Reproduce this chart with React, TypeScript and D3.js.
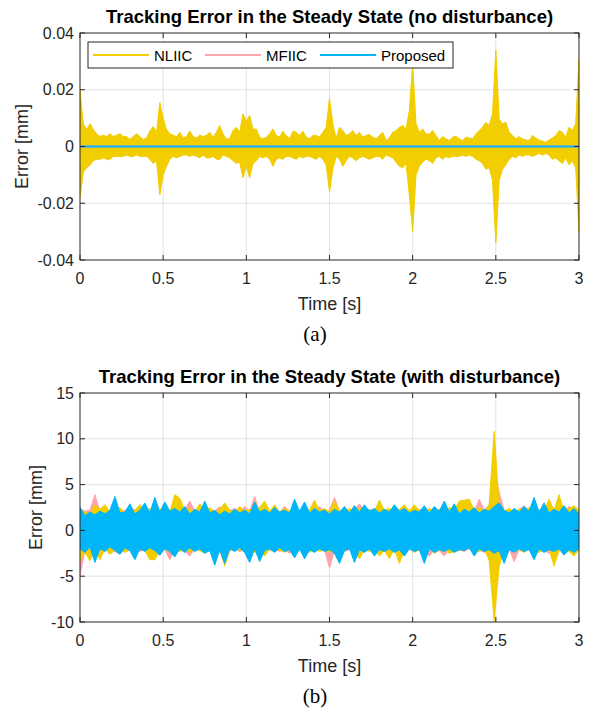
import * as d3 from 'd3'

const W = 589
const H = 711
const PLOT_L = 80
const PLOT_R = 579
const FONT = '"Liberation Sans", Arial, Helvetica, sans-serif'
const AXIS = '#262626'
const GRID = '#e2e2e2'

const SERIES_NAMES = ['NLIIC', 'MFIIC', 'Proposed']
const SERIES_COLORS = ['#F2CD00', '#FFA3AC', '#00B5F8']

const TIME_TICKS = [0, 0.5, 1, 1.5, 2, 2.5, 3]

// (a) no disturbance -- NLIIC error envelope, one value every 0.02 s, in µm
const A_STEP = 0.02
const A_NLIIC_HI = [
  20, 8, 6, 8, 6, 4.5, 3.5, 4, 3.5, 4.5, 3.5, 4, 4.5, 3.5, 3.5, 2.5, 3.5, 4.5, 3.5, 2.5,
  3, 5.5, 7, 5, 15.5, 10, 6, 4.5, 4, 3.5, 5, 3, 3.5, 5.5, 3.5, 3, 4, 3.5,
  4, 5, 3.3, 5, 7.4, 4.4, 2.7, 2.7, 5.6, 6.8, 5, 11.5, 9, 11, 6, 6.2, 3.3, 2.7, 3.3,
  4.4, 6.2, 3.9, 3.3, 5.4, 3.9, 2.7, 5.4, 5, 3.9, 5.4, 3.3, 2.7, 3.9, 3.9, 3.3, 5, 6.8,
  17, 8, 2.7, 6.8, 5.6, 3.9, 4.4, 5.6, 3.9, 5, 3.3, 3.9, 4.2, 3.3, 2.7, 3.9, 5, 2.1, 3,
  5, 5.6, 6.8, 7.4, 6.2, 12.6, 29, 8, 5, 6.2, 4.4, 4.4, 5.6, 3.9, 2.1, 3.5, 2.7, 2.1, 3.3, 3.6,
  2.7, 2.1, 3.3, 3, 2.7, 4.4, 5.6, 6.8, 8.5, 7.4, 11.5, 34, 9.7, 8, 8.5, 5, 3.9, 2.7, 3.5,
  2.7, 2.3, 2.1, 3.9, 3, 2.3, 1.9, 1.5, 2.3, 3, 3.9, 5.6, 5, 3.3, 6.8, 5.6, 8, 31,
]
const A_NLIIC_LO = [
  -18, -9, -7.5, -6.5, -5, -4.5, -4.5, -4, -4.5, -4.5, -3.5, -3.5, -3.5, -3.5, -3, -3.5, -3.5, -3, -3.5, -3.5,
  -3.5, -4.5, -6, -5, -17, -10, -7, -4.5, -3.5, -4, -3.5, -3, -3, -3.5, -3, -3.5, -4, -3,
  -4, -4, -3.5, -4.5, -4.5, -3, -3.5, -4, -5, -6, -5.5, -11, -7, -11, -6, -5, -3.5, -4, -3.5,
  -4.5, -7, -4.5, -4, -4.5, -3.5, -3.5, -4, -4.5, -3.5, -4, -3.5, -3.5, -4, -4.5, -3.5, -4.5, -6.5,
  -16, -8, -3.5, -4.5, -7, -5, -3.5, -4, -5, -4, -3.5, -4, -4.5, -4, -3.5, -3.5, -4.5, -3, -3.5,
  -4, -5.5, -7, -7.5, -6, -17, -30, -10, -7, -5.5, -4.5, -5, -6, -4, -3.5, -4.5, -3.5, -4, -3.5, -3.5,
  -3.5, -3, -3.5, -3, -3.5, -4.5, -5, -6, -8, -7.5, -12, -34, -12, -8, -6.5, -4.5, -3.5, -4, -3,
  -3.5, -3, -3, -3.5, -3, -2.5, -3, -2.5, -3, -4.5, -4, -5, -6, -4, -6.5, -5, -7.5, -30,
]
// MFIIC and Proposed stay on zero at this scale
const A_FLAT_T = [0, 3]
const A_MFIIC = [0, 0]
const A_PROPOSED = [0, 0]
const A_Y_TICKS = [-0.04, -0.02, 0, 0.02, 0.04]
const A_Y_LABELS = ['-0.04', '-0.02', '0', '0.02', '0.04']

// (b) with disturbance -- envelopes every 0.03 s, in mm
const B_STEP = 0.03
const B_NLIIC_HI = [
  2.2, 2.0, 1.8, 2.8, 2.3, 2.8, 2.0, 2.2, 2.5, 1.9,
  2.4, 2.2, 2.8, 2.1, 2.4, 2.0, 2.3, 2.5, 2.0, 3.9,
  3.5, 2.2, 2.4, 2.0, 2.9, 2.1, 2.5, 2.0, 2.3, 3.0,
  2.2, 2.0, 2.6, 2.1, 2.3, 2.0, 2.5, 3.2, 2.1, 2.8,
  2.0, 2.4, 2.1, 2.3, 2.0, 2.5, 2.2, 3.3, 2.1, 2.4,
  2.0, 3.2, 2.2, 2.0, 2.4, 2.1, 2.5, 2.0, 2.3, 2.1,
  3.3, 2.2, 2.4, 2.0, 2.3, 2.8, 2.1, 2.8, 2.2, 2.0,
  2.4, 2.1, 2.3, 2.0, 2.5, 2.2, 3.2, 3.3, 3.4, 2.2,
  2.5, 2.1, 2.8, 10.8, 2.6, 2.1, 2.4, 2.0, 2.3, 2.1,
  2.5, 2.0, 2.3, 2.1, 3.4, 2.2, 3.9, 2.1, 2.4, 2.7,
  2.2,
]
const B_NLIIC_LO = [
  -3.3, -2.4, -3.3, -2.2, -3.2, -2.0, -2.6, -2.2, -2.0, -2.4,
  -2.1, -2.3, -2.0, -2.2, -3.2, -3.2, -2.2, -2.0, -2.4, -2.1,
  -2.3, -2.1, -2.4, -2.0, -2.2, -2.5, -2.0, -2.3, -2.1, -3.9,
  -2.2, -2.0, -2.1, -2.3, -2.0, -2.4, -2.2, -2.8, -2.0, -2.3,
  -2.1, -2.4, -2.0, -2.8, -2.2, -2.1, -2.4, -2.0, -2.3, -2.1,
  -2.4, -2.0, -2.3, -2.2, -2.0, -2.4, -3.1, -2.1, -2.3, -2.0,
  -2.8, -2.2, -3.1, -2.0, -3.6, -2.2, -2.0, -2.4, -2.1, -2.2,
  -2.0, -2.5, -2.2, -2.0, -2.5, -2.3, -2.2, -2.0, -1.8, -2.1,
  -2.3, -2.0, -3.3, -9.9, -3.9, -2.2, -2.0, -2.3, -2.1, -2.4,
  -2.0, -2.2, -2.4, -2.1, -2.0, -3.9, -2.2, -2.0, -2.3, -2.8,
  -2.1,
]
const B_MFIIC_HI = [
  2.4, 2.1, 2.2, 3.9, 2.0, 2.3, 2.1, 2.4, 2.0, 2.2,
  2.1, 2.3, 2.0, 2.2, 2.1, 2.7, 2.0, 2.3, 2.1, 2.2,
  2.0, 2.3, 3.2, 2.1, 2.2, 2.0, 2.3, 2.1, 2.6, 2.0,
  2.2, 2.4, 2.0, 2.6, 2.1, 3.7, 2.0, 2.2, 2.1, 2.3,
  2.0, 2.6, 2.1, 2.2, 2.0, 2.3, 2.1, 2.2, 2.6, 2.0,
  2.2, 3.6, 2.1, 2.2, 2.0, 2.3, 2.9, 2.1, 2.2, 2.0,
  2.3, 2.1, 2.2, 2.0, 2.3, 2.1, 2.2, 2.0, 2.3, 2.1,
  2.2, 2.0, 2.3, 2.1, 2.2, 2.0, 2.3, 2.1, 2.2, 2.0,
  3.4, 2.2, 2.8, 6.6, 4.2, 2.2, 2.0, 1.8, 2.3, 2.7,
  2.1, 2.2, 2.0, 2.3, 2.1, 2.2, 3.1, 2.1, 2.6, 2.2,
  2.0,
]
const B_MFIIC_LO = [
  -4.9, -2.2, -2.0, -2.3, -2.1, -2.2, -2.0, -2.3, -2.6, -2.1,
  -2.2, -2.0, -2.3, -2.1, -2.2, -2.0, -2.3, -2.1, -3.2, -2.2,
  -2.0, -2.3, -2.8, -2.0, -2.2, -2.1, -2.3, -2.0, -2.5, -2.1,
  -2.2, -2.0, -2.3, -2.1, -2.2, -2.0, -2.3, -2.1, -2.2, -2.0,
  -2.3, -2.1, -2.5, -2.0, -2.2, -2.1, -2.3, -2.0, -2.2, -2.1,
  -4.1, -2.2, -2.0, -2.3, -2.1, -2.2, -2.0, -2.3, -2.1, -2.2,
  -2.0, -2.3, -2.1, -2.2, -2.0, -2.3, -2.1, -2.2, -2.0, -2.3,
  -2.8, -2.1, -2.2, -2.8, -2.0, -2.2, -2.1, -2.3, -2.0, -2.2,
  -2.1, -2.4, -2.2, -3.5, -2.6, -2.2, -2.0, -3.4, -2.1, -2.2,
  -2.0, -2.6, -2.1, -2.2, -2.5, -2.1, -2.2, -2.0, -2.3, -1.9,
  -2.0,
]
const B_PROPOSED_HI = [
  2.5, 1.6, 2.0, 1.7, 2.1, 1.8, 2.2, 3.7, 1.9, 2.0,
  2.9, 1.8, 2.2, 3.0, 1.9, 3.6, 2.0, 3.1, 2.1, 2.4,
  2.0, 2.6, 1.8, 2.3, 2.0, 3.2, 1.9, 2.2, 1.7, 2.1,
  1.8, 2.3, 1.9, 2.2, 1.8, 3.1, 2.0, 2.3, 1.9, 2.5,
  2.0, 2.2, 1.9, 3.4, 2.1, 3.1, 1.9, 2.4, 2.0, 2.2,
  1.8, 2.3, 2.0, 2.6, 1.9, 2.7, 2.0, 2.8, 2.1, 2.4,
  1.9, 2.3, 2.0, 2.8, 2.1, 2.4, 1.9, 2.2, 2.0, 2.7,
  1.9, 2.6, 2.1, 3.2, 2.0, 2.9, 1.8, 2.3, 2.0, 2.5,
  1.9, 2.3, 2.1, 2.6, 3.0, 2.2, 1.9, 2.4, 2.0, 2.6,
  2.1, 3.6, 2.0, 3.0, 1.9, 2.3, 2.0, 2.7, 1.9, 2.4,
  1.8,
]
const B_PROPOSED_LO = [
  -2.0, -2.4, -1.8, -3.5, -2.0, -2.3, -1.8, -2.2, -2.6, -1.9,
  -2.2, -3.2, -2.0, -2.3, -1.9, -2.2, -2.7, -2.0, -2.3, -2.9,
  -2.0, -2.4, -1.9, -2.3, -2.0, -2.5, -2.2, -3.8, -2.1, -3.6,
  -2.0, -2.3, -1.9, -2.4, -3.5, -2.0, -3.4, -2.2, -2.0, -2.4,
  -1.9, -2.3, -2.1, -3.0, -2.0, -3.1, -2.1, -2.4, -2.0, -2.3,
  -2.1, -2.5, -3.6, -2.2, -2.0, -3.5, -2.1, -2.4, -2.0, -2.8,
  -2.1, -2.3, -2.0, -2.4, -2.1, -2.8, -2.0, -2.3, -2.1, -3.6,
  -2.0, -2.4, -2.1, -2.3, -2.0, -2.4, -2.1, -2.2, -1.9, -2.8,
  -2.0, -2.3, -2.1, -2.5, -2.2, -3.6, -2.1, -2.4, -2.0, -2.3,
  -2.1, -3.2, -2.0, -2.4, -2.1, -2.3, -2.0, -2.7, -2.1, -2.4,
  -2.0,
]
const B_Y_TICKS = [-10, -5, 0, 5, 10, 15]
const B_Y_LABELS = ['-10', '-5', '0', '5', '10', '15']

type Band = { color: string; step: number; unit: number; hi: number[]; lo: number[] }
type Trace = { color: string; t: number[]; v: number[] }

type PanelProps = {
  id: string
  top: number
  bottom: number
  yTicks: number[]
  yLabels: string[]
  title: string
  caption: string
  yLabelX: number
  bands: Band[]
  traces: Trace[]
  legend?: boolean
}

function Panel(p: PanelProps) {
  const x = d3.scaleLinear().domain([0, 3]).range([PLOT_L, PLOT_R])
  const y = d3
    .scaleLinear()
    .domain([p.yTicks[0], p.yTicks[p.yTicks.length - 1]])
    .range([p.bottom, p.top])
  const clipId = `clip-${p.id}`
  const midX = (PLOT_L + PLOT_R) / 2
  const tickLen = 5

  return (
    <g>
      <defs>
        <clipPath id={clipId}>
          <rect x={PLOT_L} y={p.top} width={PLOT_R - PLOT_L} height={p.bottom - p.top} />
        </clipPath>
      </defs>

      {/* grid */}
      {TIME_TICKS.slice(1, -1).map(t => (
        <line key={`gx${t}`} x1={x(t)} x2={x(t)} y1={p.top} y2={p.bottom} stroke={GRID} strokeWidth={1} />
      ))}
      {p.yTicks.slice(1, -1).map(v => (
        <line key={`gy${v}`} x1={PLOT_L} x2={PLOT_R} y1={y(v)} y2={y(v)} stroke={GRID} strokeWidth={1} />
      ))}

      {/* data */}
      <g clipPath={`url(#${clipId})`}>
        {p.bands.map((b, k) => {
          const area = d3
            .area<number>()
            .x((_, i) => x(i * b.step))
            .y0((_, i) => y(b.lo[i] * b.unit))
            .y1(d => y(d * b.unit))
          return (
            <path
              key={`b${k}`}
              d={area(b.hi) || ''}
              fill={b.color}
              stroke={b.color}
              strokeWidth={1}
              strokeLinejoin="round"
            />
          )
        })}
        {p.traces.map((tr, k) => {
          const line = d3
            .line<number>()
            .x((_, i) => x(tr.t[i]))
            .y(d => y(d))
          return <path key={`t${k}`} d={line(tr.v) || ''} fill="none" stroke={tr.color} strokeWidth={2} />
        })}
      </g>

      {/* box and ticks */}
      <rect
        x={PLOT_L}
        y={p.top}
        width={PLOT_R - PLOT_L}
        height={p.bottom - p.top}
        fill="none"
        stroke={AXIS}
        strokeWidth={1}
      />
      {TIME_TICKS.map(t => (
        <g key={`tx${t}`}>
          <line x1={x(t)} x2={x(t)} y1={p.bottom} y2={p.bottom - tickLen} stroke={AXIS} />
          <line x1={x(t)} x2={x(t)} y1={p.top} y2={p.top + tickLen} stroke={AXIS} />
          <text x={x(t)} y={p.bottom + 24} textAnchor="middle" fontSize={16} fill={AXIS}>
            {String(t)}
          </text>
        </g>
      ))}
      {p.yTicks.map((v, i) => (
        <g key={`ty${v}`}>
          <line x1={PLOT_L} x2={PLOT_L + tickLen} y1={y(v)} y2={y(v)} stroke={AXIS} />
          <line x1={PLOT_R} x2={PLOT_R - tickLen} y1={y(v)} y2={y(v)} stroke={AXIS} />
          <text x={PLOT_L - 6} y={y(v) + 5.5} textAnchor="end" fontSize={16} fill={AXIS}>
            {p.yLabels[i]}
          </text>
        </g>
      ))}

      {/* labels */}
      <text x={midX} y={p.top - 10} textAnchor="middle" fontSize={18.5} fontWeight="bold" fill="#000">
        {p.title}
      </text>
      <text x={midX} y={p.bottom + 50} textAnchor="middle" fontSize={18} fill={AXIS}>
        Time [s]
      </text>
      <text
        transform={`translate(${p.yLabelX},${(p.top + p.bottom) / 2}) rotate(-90)`}
        textAnchor="middle"
        fontSize={18}
        fill={AXIS}
      >
        Error [mm]
      </text>
      <text
        x={315}
        y={p.bottom + 81}
        textAnchor="middle"
        fontSize={21}
        fontFamily='"Liberation Serif", "DejaVu Serif", serif'
        fill="#000"
      >
        {p.caption}
      </text>

      {p.legend && (
        <g>
          <rect x={88} y={p.top + 9} width={365} height={26} fill="#fff" stroke={AXIS} strokeWidth={1} />
          {SERIES_NAMES.map((name, i) => {
            const lx = [93, 205, 320][i]
            const ly = p.top + 22
            return (
              <g key={name}>
                <line x1={lx} x2={lx + 56} y1={ly} y2={ly} stroke={SERIES_COLORS[i]} strokeWidth={2} />
                <text x={lx + 61} y={ly + 5.5} fontSize={15} fill="#000">
                  {name}
                </text>
              </g>
            )
          })}
        </g>
      )}
    </g>
  )
}

export default function App() {
  return (
    <svg
      width={W}
      height={H}
      style={{ position: 'absolute', left: 0, top: 0, display: 'block', background: '#fff' }}
      fontFamily={FONT}
    >
      <rect width={W} height={H} fill="#fff" />
      <Panel
        id="a"
        top={33}
        bottom={260}
        yTicks={A_Y_TICKS}
        yLabels={A_Y_LABELS}
        title="Tracking Error in the Steady State (no disturbance)"
        caption="(a)"
        yLabelX={28}
        legend
        bands={[{ color: SERIES_COLORS[0], step: A_STEP, unit: 0.001, hi: A_NLIIC_HI, lo: A_NLIIC_LO }]}
        traces={[
          { color: SERIES_COLORS[1], t: A_FLAT_T, v: A_MFIIC },
          { color: SERIES_COLORS[2], t: A_FLAT_T, v: A_PROPOSED },
        ]}
      />
      <Panel
        id="b"
        top={393}
        bottom={622}
        yTicks={B_Y_TICKS}
        yLabels={B_Y_LABELS}
        title="Tracking Error in the Steady State (with disturbance)"
        caption="(b)"
        yLabelX={42}
        bands={[
          { color: SERIES_COLORS[1], step: B_STEP, unit: 1, hi: B_MFIIC_HI, lo: B_MFIIC_LO },
          { color: SERIES_COLORS[0], step: B_STEP, unit: 1, hi: B_NLIIC_HI, lo: B_NLIIC_LO },
          { color: SERIES_COLORS[2], step: B_STEP, unit: 1, hi: B_PROPOSED_HI, lo: B_PROPOSED_LO },
        ]}
        traces={[]}
      />
    </svg>
  )
}
